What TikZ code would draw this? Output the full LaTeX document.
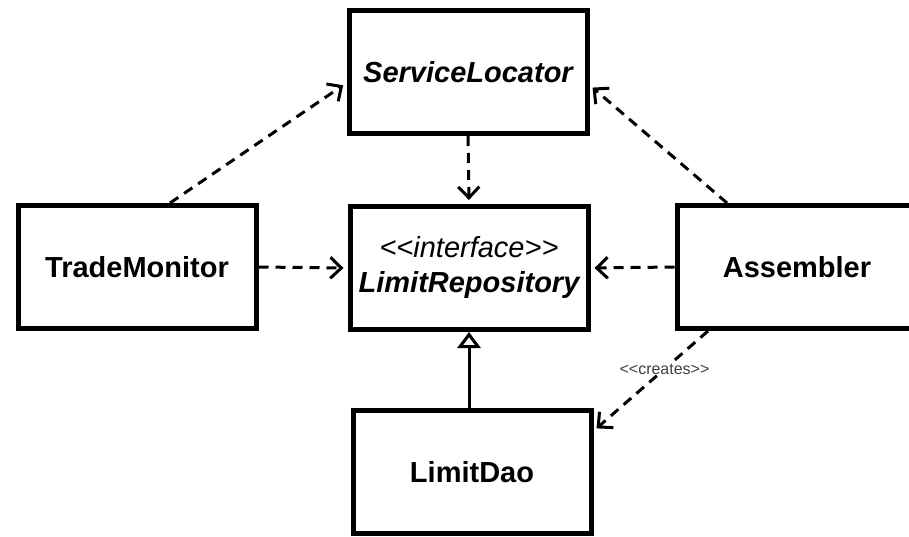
\documentclass[tikz,border=0pt]{standalone}
\usepackage{fontspec}
\setmainfont{Liberation Sans}
\usetikzlibrary{arrows.meta}

\tikzset{
  classbox/.style={draw, line width=5pt, minimum width=238pt, minimum height=123pt,
    align=center, font=\fontsize{29}{35}\selectfont\bfseries},
  uses/.style={line width=3pt, dash pattern=on 10pt off 7pt,
    -{Straight Barb[length=11pt,width=21pt,line width=3pt]}, shorten >=4pt},
  inherits/.style={line width=3pt, -{Triangle[open,fill=white,length=16pt,width=23pt,line width=3pt]}}
}

\begin{document}
\begin{tikzpicture}[x=1pt,y=-1pt]
\useasboundingbox (0,0) rectangle (909,537);
%Klassen
\node[classbox] (locator) at (468,72) {\itshape ServiceLocator};
\node[classbox] (monitor) at (137,267) {TradeMonitor};
\node[classbox] (repo) at (469,268) {{\mdseries\itshape <{}<interface>{}>}\\\itshape LimitRepository};
\node[classbox, minimum width=240pt] (assembler) at (797,267) {Assembler};
\node[classbox] (dao) at (472,472) {LimitDao};
%Abhaengigkeiten
\draw[uses] ([xshift=33pt]monitor.north) -- ([yshift=-11pt]locator.west);
\draw[uses] ([xshift=-70pt]assembler.north) -- ([yshift=-13pt]locator.east);
\draw[uses] (locator.south) -- (repo.north);
\draw[uses] (monitor.east) -- (repo.west);
\draw[uses] (assembler.west) -- (repo.east);
\draw[uses] ([xshift=-89pt]assembler.south) -- ([yshift=-23pt]dao.north east)
  node[pos=0.38, fill=white, inner sep=1pt, text=black!75, font=\fontsize{16}{18}\selectfont] (creates) {<{}<creates>{}>};
%Vererbung
\draw[inherits] (repo.south |- dao.north) -- (repo.south);
\end{tikzpicture}
\end{document}
